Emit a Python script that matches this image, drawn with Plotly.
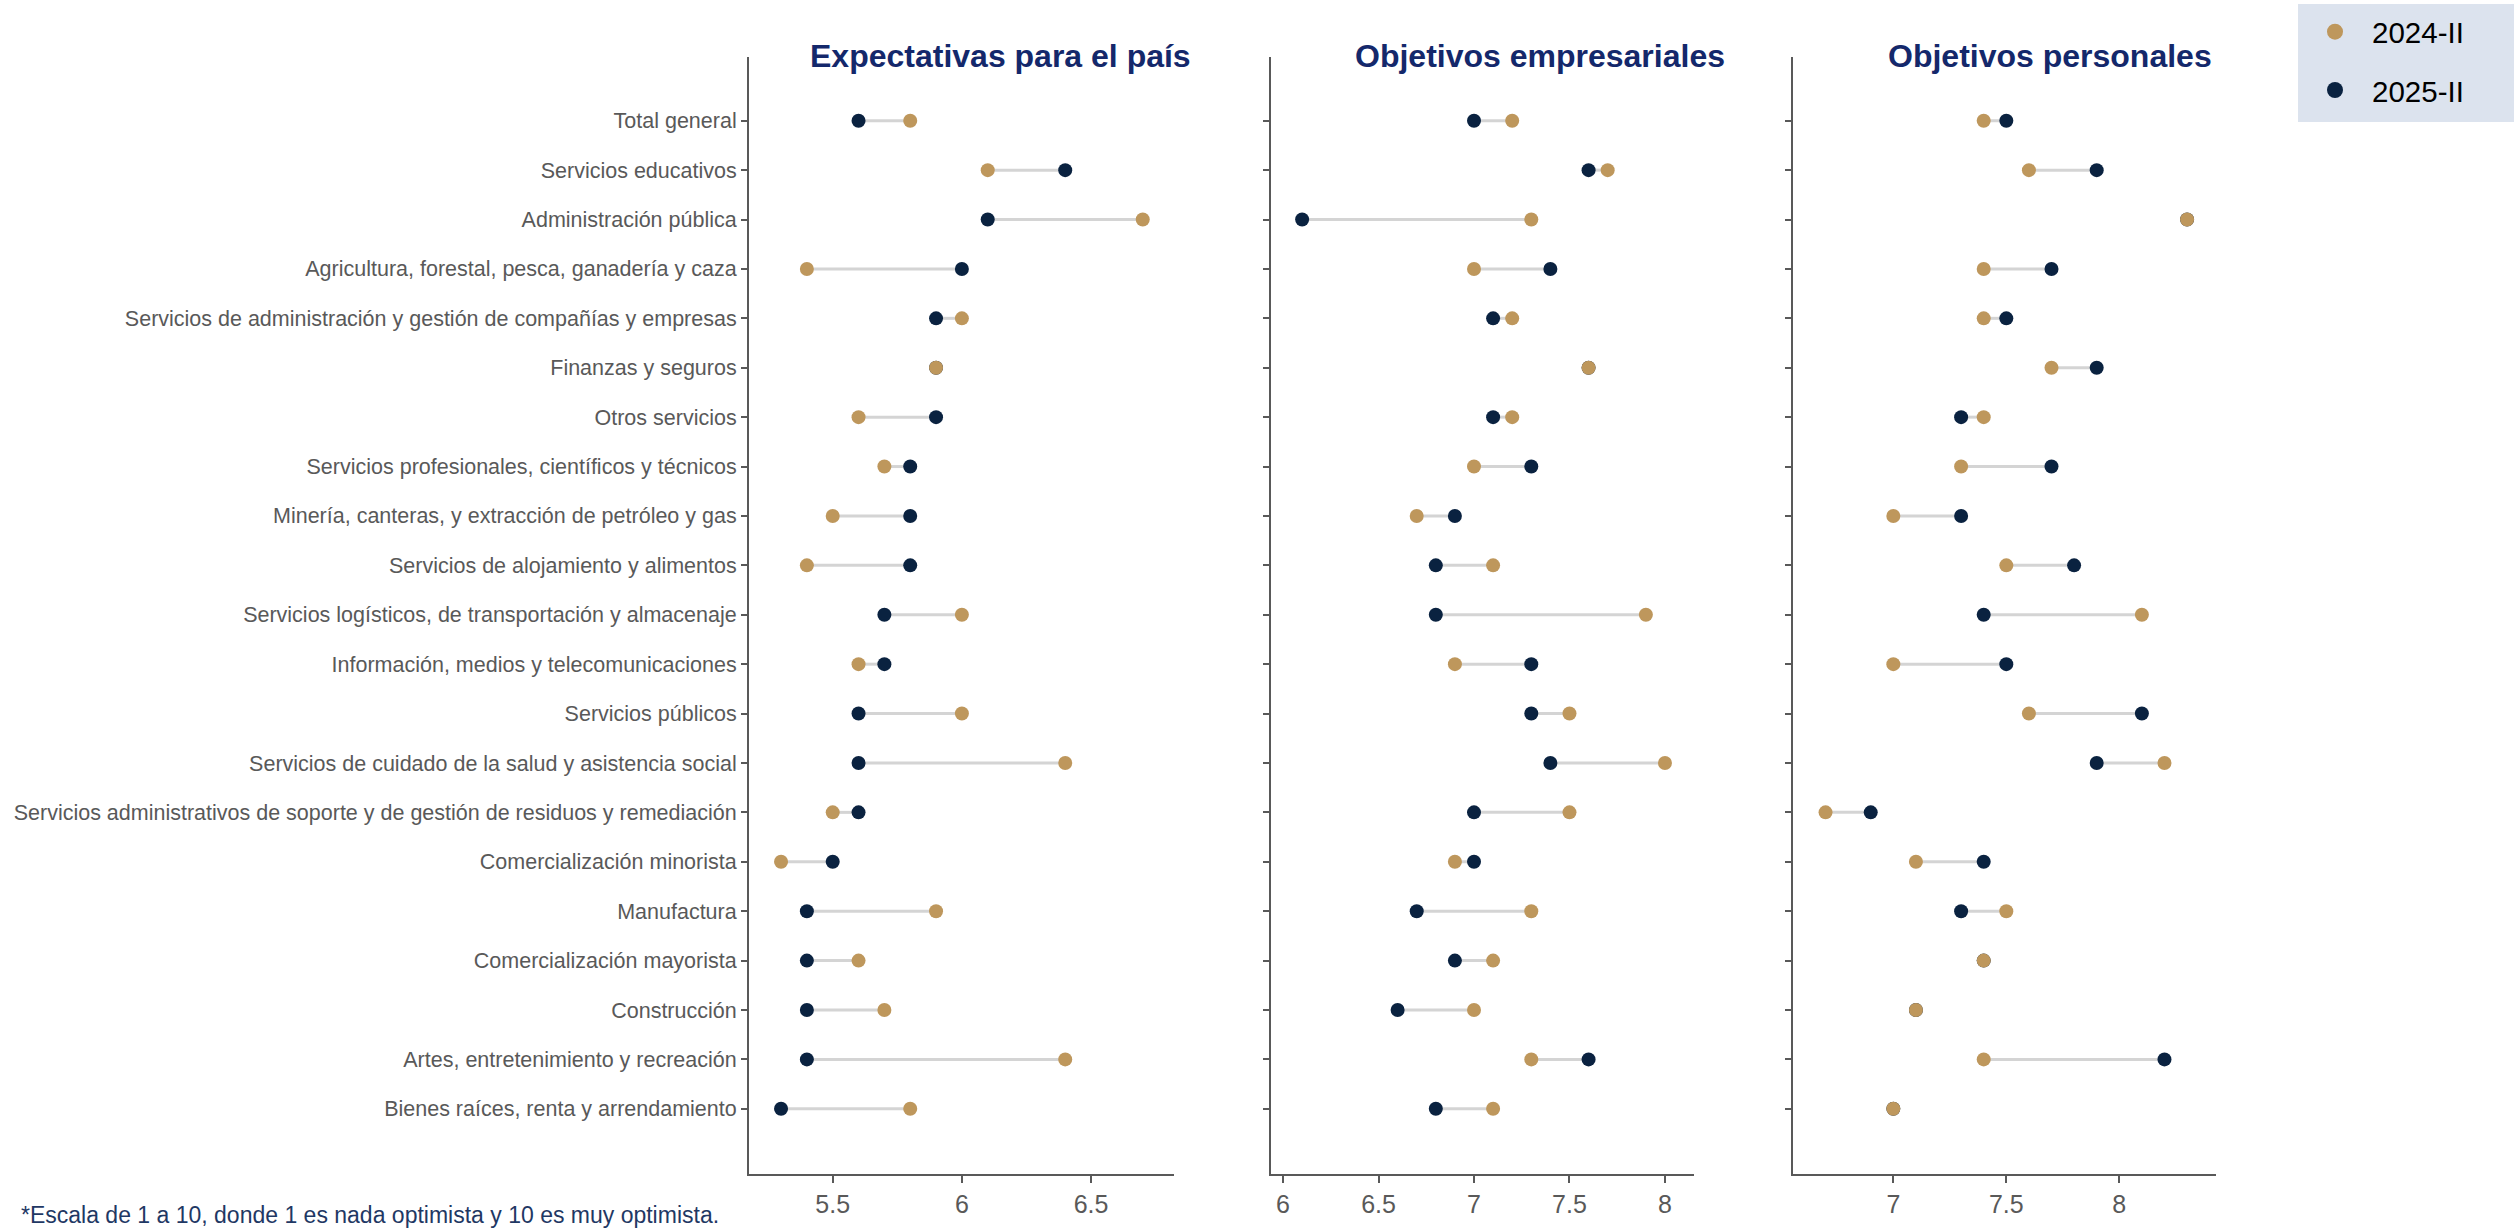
import plotly.graph_objects as go

categories = [
    "Total general",
    "Servicios educativos",
    "Administración pública",
    "Agricultura, forestal, pesca, ganadería y caza",
    "Servicios de administración y gestión de compañías y empresas",
    "Finanzas y seguros",
    "Otros servicios",
    "Servicios profesionales, científicos y técnicos",
    "Minería, canteras, y extracción de petróleo y gas",
    "Servicios de alojamiento y alimentos",
    "Servicios logísticos, de transportación y almacenaje",
    "Información, medios y telecomunicaciones",
    "Servicios públicos",
    "Servicios de cuidado de la salud y asistencia social",
    "Servicios administrativos de soporte y de gestión de residuos y remediación",
    "Comercialización minorista",
    "Manufactura",
    "Comercialización mayorista",
    "Construcción",
    "Artes, entretenimiento y recreación",
    "Bienes raíces, renta y arrendamiento",
]

pais_2024 = [5.8, 6.1, 6.7, 5.4, 6.0, 5.9, 5.6, 5.7, 5.5, 5.4, 6.0, 5.6, 6.0, 6.4, 5.5, 5.3, 5.9, 5.6, 5.7, 6.4, 5.8]
pais_2025 = [5.6, 6.4, 6.1, 6.0, 5.9, 5.9, 5.9, 5.8, 5.8, 5.8, 5.7, 5.7, 5.6, 5.6, 5.6, 5.5, 5.4, 5.4, 5.4, 5.4, 5.3]

emp_2024 = [7.2, 7.7, 7.3, 7.0, 7.2, 7.6, 7.2, 7.0, 6.7, 7.1, 7.9, 6.9, 7.5, 8.0, 7.5, 6.9, 7.3, 7.1, 7.0, 7.3, 7.1]
emp_2025 = [7.0, 7.6, 6.1, 7.4, 7.1, 7.6, 7.1, 7.3, 6.9, 6.8, 6.8, 7.3, 7.3, 7.4, 7.0, 7.0, 6.7, 6.9, 6.6, 7.6, 6.8]

per_2024 = [7.4, 7.6, 8.3, 7.4, 7.4, 7.7, 7.4, 7.3, 7.0, 7.5, 8.1, 7.0, 7.6, 8.2, 6.7, 7.1, 7.5, 7.4, 7.1, 7.4, 7.0]
per_2025 = [7.5, 7.9, 8.3, 7.7, 7.5, 7.9, 7.3, 7.7, 7.3, 7.8, 7.4, 7.5, 8.1, 7.9, 6.9, 7.4, 7.3, 7.4, 7.1, 8.2, 7.0]

panel_titles = ["Expectativas para el país", "Objetivos empresariales", "Objetivos personales"]
series_names = ["2024-II", "2025-II"]
footnote = "*Escala de 1 a 10, donde 1 es nada optimista y 10 es muy optimista."

COL_2024 = "#BE975C"
COL_2025 = "#0A2240"
LINE_COL = "#D4D4D4"
AXIS_COL = "#595959"
TITLE_COL = "#14286B"
LEGEND_BG = "#DCE3EE"
FONT = "Liberation Sans, Arial, sans-serif"

W, H = 2514, 1232
x_domains = [(749 / W, 1174 / W), (1271 / W, 1694 / W), (1793 / W, 2216 / W)]
y_domain = (1 - 1174 / H, 1 - 57 / H)
x_ranges = [(5.176, 6.821), (5.937, 8.152), (6.556, 8.428)]
title_x = [1000 / W, 1540 / W, 2050 / W]

panels = [(pais_2024, pais_2025), (emp_2024, emp_2025), (per_2024, per_2025)]

fig = go.Figure()

for i, (v24, v25) in enumerate(panels):
    xa = "x" if i == 0 else f"x{i+1}"
    ya = "y" if i == 0 else f"y{i+1}"
    lx, ly = [], []
    for c, a, b in zip(categories, v24, v25):
        lx += [a, b, None]
        ly += [c, c, None]
    fig.add_trace(go.Scatter(
        x=lx, y=ly, mode="lines", line=dict(color=LINE_COL, width=3),
        showlegend=False, hoverinfo="skip", xaxis=xa, yaxis=ya,
    ))
    fig.add_trace(go.Scatter(
        x=v25, y=categories, mode="markers", name=series_names[1],
        marker=dict(color=COL_2025, size=14),
        showlegend=False, legendgroup="b",
        xaxis=xa, yaxis=ya,
    ))
    fig.add_trace(go.Scatter(
        x=v24, y=categories, mode="markers", name=series_names[0],
        marker=dict(color=COL_2024, size=14),
        showlegend=False, legendgroup="a",
        xaxis=xa, yaxis=ya,
    ))

# legend entries (larger symbols, as in the reference legend)
fig.add_trace(go.Scatter(
    x=[None], y=[None], mode="markers", name=series_names[0],
    marker=dict(color=COL_2024, size=18), legendgroup="a", legendrank=1,
    showlegend=True,
))
fig.add_trace(go.Scatter(
    x=[None], y=[None], mode="markers", name=series_names[1],
    marker=dict(color=COL_2025, size=18), legendgroup="b", legendrank=2,
    showlegend=True,
))

layout = dict(
    width=W, height=H,
    margin=dict(l=0, r=0, t=0, b=0),
    paper_bgcolor="white", plot_bgcolor="white",
    font=dict(family=FONT, color=AXIS_COL),
    legend=dict(
        x=2298 / W, y=1 - 6 / H, xanchor="left", yanchor="top",
        bgcolor="rgba(0,0,0,0)", font=dict(size=29.5, color="black", family=FONT),
        tracegroupgap=17, itemwidth=64,
    ),
    shapes=[dict(
        type="rect", xref="paper", yref="paper",
        x0=2298 / W, x1=1, y0=1 - 122 / H, y1=1 - 4 / H,
        fillcolor=LEGEND_BG, line=dict(width=0), layer="below",
    )],
    annotations=[],
)

for i in range(3):
    xk = "xaxis" if i == 0 else f"xaxis{i+1}"
    yk = "yaxis" if i == 0 else f"yaxis{i+1}"
    ya = "y" if i == 0 else f"y{i+1}"
    xa = "x" if i == 0 else f"x{i+1}"
    layout[xk] = dict(
        domain=list(x_domains[i]), anchor=ya, range=list(x_ranges[i]),
        dtick=0.5, showgrid=False, zeroline=False,
        showline=True, linecolor=AXIS_COL, linewidth=2,
        ticks="outside", ticklen=7, tickwidth=1.5, tickcolor=AXIS_COL,
        tickfont=dict(size=25, color=AXIS_COL, family=FONT),
        automargin=False,
    )
    layout[yk] = dict(
        domain=list(y_domain), anchor=xa, type="category",
        categoryorder="array", categoryarray=categories,
        range=[21.32, -1.29], showgrid=False, zeroline=False,
        showline=True, linecolor=AXIS_COL, linewidth=2,
        ticks="outside", ticklen=6, tickwidth=1.5, tickcolor=AXIS_COL,
        showticklabels=(i == 0),
        tickfont=dict(size=21.5, color=AXIS_COL, family=FONT),
        automargin=False,
    )
    layout["annotations"].append(dict(
        text=f"<b>{panel_titles[i]}</b>", xref="paper", yref="paper",
        x=title_x[i], y=1 - 56 / H, xanchor="center", yanchor="middle",
        showarrow=False, font=dict(size=32, color=TITLE_COL, family=FONT),
    ))

layout["annotations"].append(dict(
    text=footnote, xref="paper", yref="paper",
    x=19 / W, y=1 - 1215 / H, xanchor="left", yanchor="middle",
    showarrow=False, font=dict(size=23, color="#1F3864", family=FONT),
))

fig.update_layout(**layout)

fig.write_html(
    "out.html",
    config={"displayModeBar": False},
    post_script="document.body.style.margin='0';document.body.style.overflow='hidden';",
)
